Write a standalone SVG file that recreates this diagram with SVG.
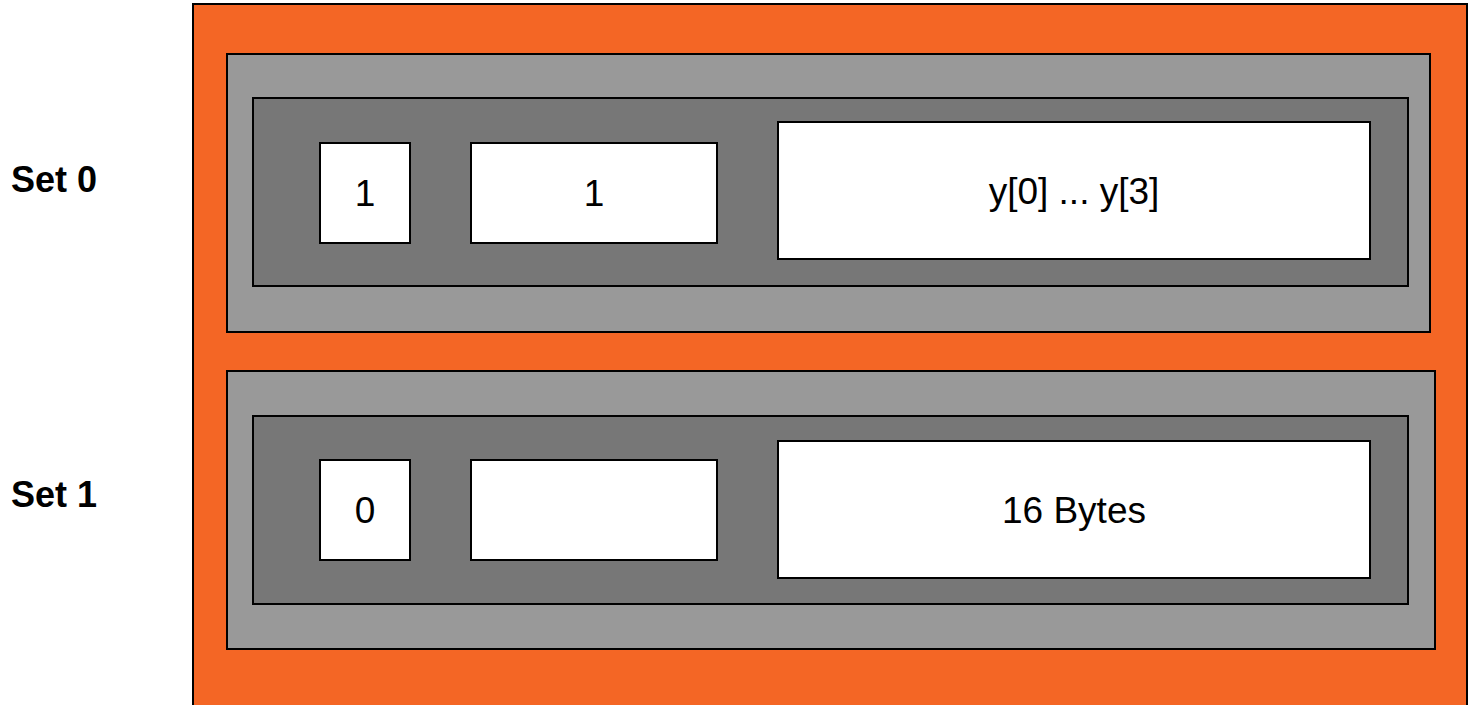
<svg xmlns="http://www.w3.org/2000/svg" width="1468" height="705" viewBox="0 0 1468 705">
<style>
  .frame { fill: #f46625; stroke: #000; stroke-width: 2; }
  .set { fill: #999999; stroke: #000; stroke-width: 2; }
  .line { fill: #777777; stroke: #000; stroke-width: 2; }
  .field { fill: #ffffff; stroke: #000; stroke-width: 2; }
  .lbl { font-family: "Liberation Sans", Arial, sans-serif; font-size: 37px; fill: #000; text-anchor: middle; }
  .setlbl { font-family: "Liberation Sans", Arial, sans-serif; font-size: 36px; font-weight: bold; fill: #000; }
</style>
<rect width="1468" height="705" fill="#ffffff"/>
<g id="cache">
  <rect class="frame" x="193" y="4" width="1274" height="720"/>
</g>
<g id="set0">
  <text class="setlbl" x="11" y="192">Set 0</text>
  <rect class="set" x="227" y="54" width="1203" height="278"/>
  <rect class="line" x="253" y="98" width="1155" height="188"/>
  <g id="set0-valid">
    <rect class="field" x="320" y="143" width="90" height="100"/>
    <text class="lbl" x="365" y="206">1</text>
  </g>
  <g id="set0-tag">
    <rect class="field" x="471" y="143" width="246" height="100"/>
    <text class="lbl" x="594" y="206">1</text>
  </g>
  <g id="set0-data">
    <rect class="field" x="778" y="122" width="592" height="137"/>
    <text class="lbl" x="1074" y="204">y[0] ... y[3]</text>
  </g>
</g>
<g id="set1">
  <text class="setlbl" x="11" y="507">Set 1</text>
  <rect class="set" x="227" y="371" width="1208" height="278"/>
  <rect class="line" x="253" y="416" width="1155" height="188"/>
  <g id="set1-valid">
    <rect class="field" x="320" y="460" width="90" height="100"/>
    <text class="lbl" x="365" y="523">0</text>
  </g>
  <g id="set1-tag">
    <rect class="field" x="471" y="460" width="246" height="100"/>
  </g>
  <g id="set1-data">
    <rect class="field" x="778" y="441" width="592" height="137"/>
    <text class="lbl" x="1074" y="523">16 Bytes</text>
  </g>
</g>
<g id="connectors"></g>
</svg>
